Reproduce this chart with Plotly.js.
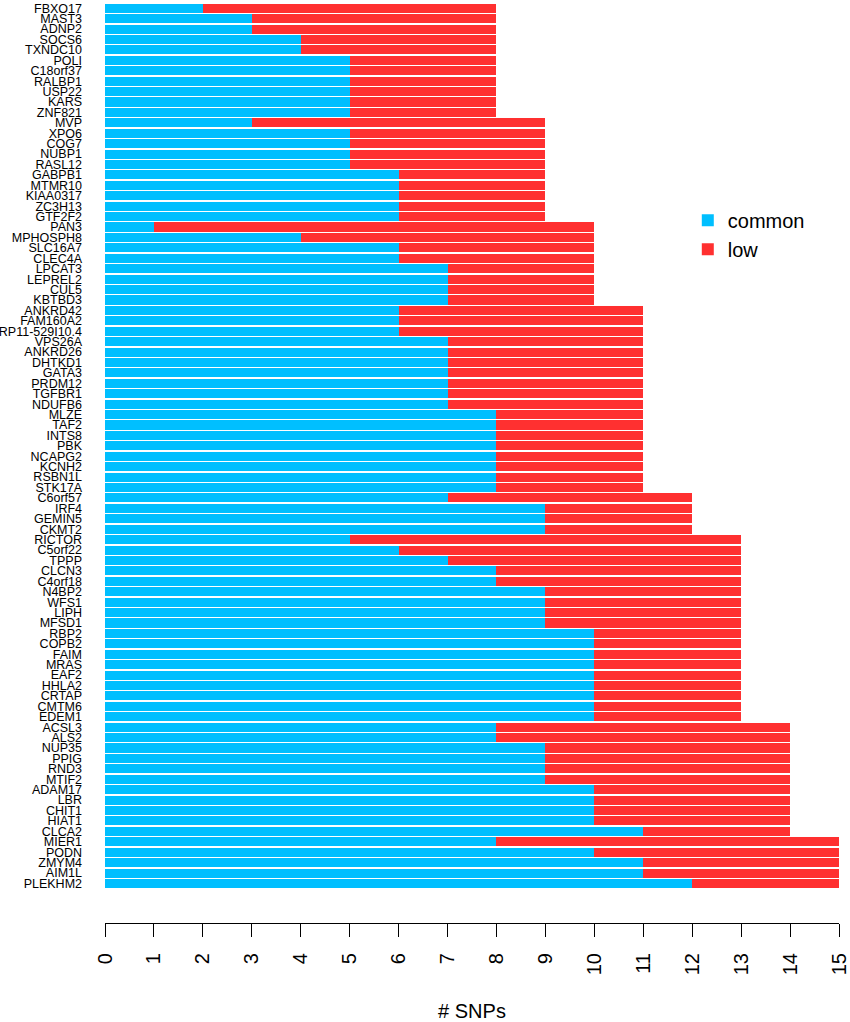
<!DOCTYPE html>
<html>
<head>
<meta charset="utf-8">
<script src="https://cdn.plot.ly/plotly-3.0.1.min.js"></script>
<style>html,body{margin:0;padding:0;background:#fff;}#chart{width:850px;height:1022px;}</style>
</head>
<body>
<div id="chart"></div>
<script>
const genes = ["FBXO17","MAST3","ADNP2","SOCS6","TXNDC10","POLI","C18orf37","RALBP1","USP22","KARS","ZNF821",
"MVP","XPO6","COG7","NUBP1","RASL12","GABPB1","MTMR10","KIAA0317","ZC3H13","GTF2F2",
"PAN3","MPHOSPH8","SLC16A7","CLEC4A","LPCAT3","LEPREL2","CUL5","KBTBD3",
"ANKRD42","FAM160A2","RP11-529I10.4","VPS26A","ANKRD26","DHTKD1","GATA3","PRDM12","TGFBR1","NDUFB6",
"MLZE","TAF2","INTS8","PBK","NCAPG2","KCNH2","RSBN1L","STK17A",
"C6orf57","IRF4","GEMIN5","CKMT2",
"RICTOR","C5orf22","TPPP","CLCN3","C4orf18","N4BP2","WFS1","LIPH","MFSD1","RBP2","COPB2","FAIM","MRAS","EAF2","HHLA2","CRTAP","CMTM6","EDEM1",
"ACSL3","ALS2","NUP35","PPIG","RND3","MTIF2","ADAM17","LBR","CHIT1","HIAT1","CLCA2",
"MIER1","PODN","ZMYM4","AIM1L","PLEKHM2"];

const common = [2,3,3,4,4,5,5,5,5,5,5,
3,5,5,5,5,6,6,6,6,6,
1,4,6,6,7,7,7,7,
6,6,6,7,7,7,7,7,7,7,
8,8,8,8,8,8,8,8,
7,9,9,9,
5,6,7,8,8,9,9,9,9,10,10,10,10,10,10,10,10,10,
8,8,9,9,9,9,10,10,10,10,11,
8,10,11,11,12];

const total = [8,8,8,8,8,8,8,8,8,8,8,
9,9,9,9,9,9,9,9,9,9,
10,10,10,10,10,10,10,10,
11,11,11,11,11,11,11,11,11,11,
11,11,11,11,11,11,11,11,
12,12,12,12,
13,13,13,13,13,13,13,13,13,13,13,13,13,13,13,13,13,13,
14,14,14,14,14,14,14,14,14,14,14,
15,15,15,15,15];

const low = total.map((t, i) => t - common[i]);
const xTicks = [0,1,2,3,4,5,6,7,8,9,10,11,12,13,14,15];

const traces = [
  {type:'bar', orientation:'h', name:'common', y:genes, x:common,
   marker:{color:'#00BFFF', line:{width:0}}},
  {type:'bar', orientation:'h', name:'low', y:genes, x:low,
   marker:{color:'#FF3030', line:{width:0}}}
];

const layout = {
  width:850, height:1022,
  margin:{l:105, r:11, t:3, b:99, pad:0},
  paper_bgcolor:'#fff', plot_bgcolor:'#fff',
  barmode:'stack', bargap:0.13,
  font:{family:'Liberation Sans, Arial, sans-serif', color:'#000'},
  showlegend:true,
  legend:{x:0.794, y:0.785, xanchor:'left', yanchor:'top', traceorder:'normal',
          font:{size:20, color:'#000'}, bgcolor:'rgba(0,0,0,0)', itemwidth:30, tracegroupgap:0},
  xaxis:{range:[0,15], anchor:'free', position:0, tickmode:'array', tickvals:xTicks,
         ticktext:xTicks.map(String), tickangle:-90, ticks:'outside', ticklen:13, tickwidth:1,
         tickcolor:'#000', showline:true, linecolor:'#000', linewidth:1, showgrid:false,
         zeroline:false, automargin:false, ticklabelstandoff:8,
         tickfont:{size:20, color:'#000'},
         title:{text:'# SNPs', font:{size:20, color:'#000'}, standoff:30}},
  yaxis:{domain:[0.0373,1], type:'category', categoryorder:'array', categoryarray:genes,
         tickmode:'array', tickvals:genes, ticktext:genes,
         autorange:'reversed', showline:false, ticks:'', showgrid:false, zeroline:false,
         automargin:false, ticklabelstandoff:22, tickfont:{size:12.5, color:'#000'}}
};

Plotly.newPlot('chart', traces, layout, {displayModeBar:false, staticPlot:true});
</script>
</body>
</html>
